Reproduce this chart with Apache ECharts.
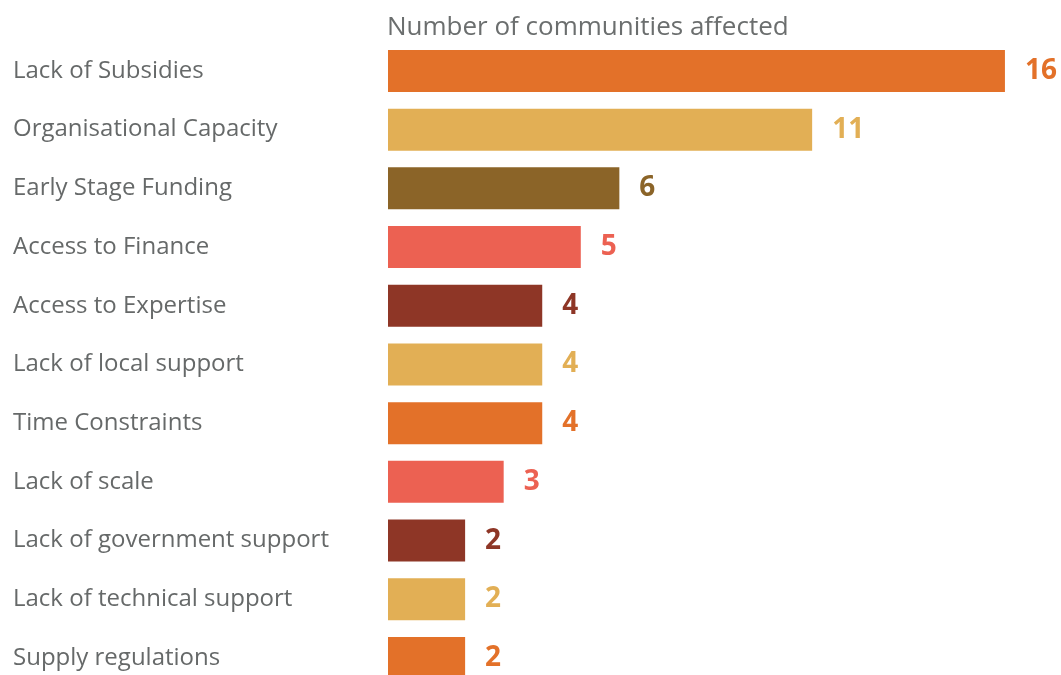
<!DOCTYPE html>
<html>
<head>
<meta charset="utf-8">
<script src="https://cdn.jsdelivr.net/npm/echarts@6/dist/echarts.min.js"></script>
<style>
html,body{margin:0;padding:0;background:#fff;overflow:hidden;}
#chart{width:1061px;height:692px;}
</style>
</head>
<body>
<div id="chart"></div>
<script>
const categories = ["Lack of Subsidies","Organisational Capacity","Early Stage Funding","Access to Finance","Access to Expertise","Lack of local support","Time Constraints","Lack of scale","Lack of government support","Lack of technical support","Supply regulations"];
const values = [16, 11, 6, 5, 4, 4, 4, 3, 2, 2, 2];
const barColors = ["#E37129","#E2AF55","#8B6428","#EC6152","#8E3626","#E2AF55","#E37129","#EC6152","#8E3626","#E2AF55","#E37129"];
const axisTitle = "Number of communities affected";

const chart = echarts.init(document.getElementById('chart'));
const data = values.map((v, i) => ({
  value: v,
  itemStyle: { color: barColors[i] },
  label: { color: barColors[i] }
}));
chart.setOption({
  animation: false,
  title: {
    text: axisTitle,
    left: 382,
    top: 10,
    textStyle: { fontFamily: 'Open Sans', fontSize: 26, fontWeight: 'normal', color: '#6b6e6e' }
  },
  grid: { left: 388, width: 655.5, top: 41.6, height: 645.7, containLabel: false },
  xAxis: {
    type: 'value', min: 0, max: 17,
    show: false
  },
  yAxis: {
    type: 'category', data: categories, inverse: true,
    axisLine: { show: false }, axisTick: { show: false },
    axisLabel: {
      align: 'left', margin: 375, fontFamily: 'Open Sans', fontSize: 24,
      color: '#666969', padding: [0,0,9,0]
    }
  },
  series: [{
    type: 'bar', data: data, barCategoryGap: '28.4%',
    label: {
      show: true, position: 'right', distance: 20,
      fontFamily: 'Open Sans', fontSize: 28, fontWeight: 'bold'
    }
  }]
});
</script>
</body>
</html>
